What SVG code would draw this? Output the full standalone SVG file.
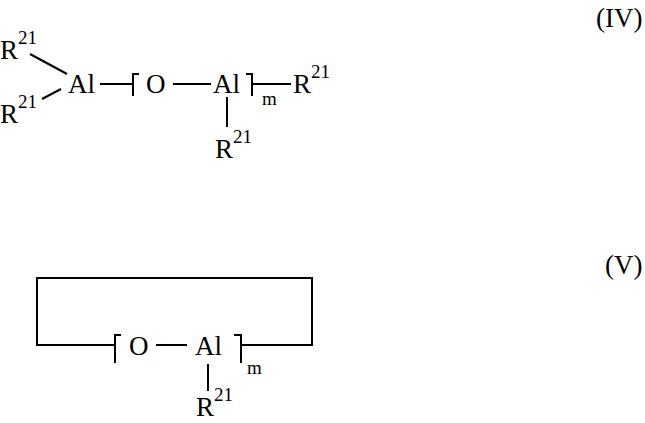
<svg xmlns="http://www.w3.org/2000/svg" width="645" height="423" viewBox="0 0 645 423">
<style>
text{font-family:"Liberation Serif","Times New Roman",serif;font-size:27px;fill:#000}
.s{font-size:19px}
.ln{stroke:#000;stroke-width:2;fill:none}
</style>
<rect width="645" height="423" fill="#fff"/>
<text x="596" y="27">(IV)</text>
<text x="605" y="274">(V)</text>
<g id="connectors" class="ln">
<line x1="30" y1="54" x2="67" y2="74"/>
<line x1="42" y1="99" x2="61" y2="89"/>
<line x1="100" y1="84" x2="132" y2="84"/>
<path d="M139,74 H133 V96"/>
<line x1="173" y1="84" x2="211" y2="84"/>
<path d="M246,74 H252 V96"/>
<line x1="252" y1="84" x2="291" y2="84"/>
<line x1="227" y1="97" x2="227" y2="127"/>
<path d="M114,345 H37 V278 H312 V345 H242"/>
<path d="M121,335 H115 V363"/>
<line x1="156" y1="345" x2="187" y2="345"/>
<path d="M234,335 H241 V363"/>
<line x1="208" y1="364" x2="208" y2="391"/>
</g>
<g id="formula-IV">
<text x="0" y="59">R<tspan class="s" dy="-15">21</tspan></text>
<text x="0" y="123">R<tspan class="s" dy="-15">21</tspan></text>
<text x="68" y="93">Al</text>
<text x="146" y="93">O</text>
<text x="213" y="93">Al</text>
<text x="262" y="105" class="s">m</text>
<text x="293" y="93">R<tspan class="s" dy="-15">21</tspan></text>
<text x="215" y="158">R<tspan class="s" dy="-15">21</tspan></text>
</g>
<g id="formula-V">
<text x="129" y="355">O</text>
<text x="195" y="355">Al</text>
<text x="247" y="374" class="s">m</text>
<text x="196" y="416">R<tspan class="s" dy="-15">21</tspan></text>
</g>
</svg>
